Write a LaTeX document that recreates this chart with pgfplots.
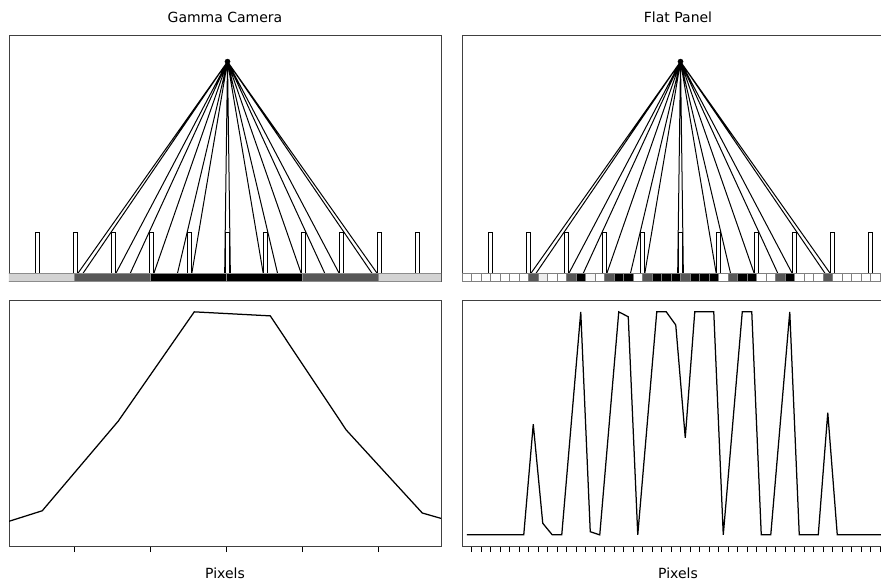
\documentclass[border=0pt]{standalone}
\usepackage{fontspec}
\setmainfont{DejaVu Sans}
\usepackage{pgfplots}
\pgfplotsset{compat=1.18}
\definecolor{dgray}{HTML}{575757}
\definecolor{lgray}{HTML}{D3D3D3}
\definecolor{vlgray}{HTML}{EEEEEE}
\definecolor{nwhite}{HTML}{F7F7F7}
\newcommand{\lbl}{\fontsize{14}{16}\selectfont}
\pgfplotsset{
  base/.style={scale only axis, width=432pt, clip=true,
    axis line style={black!75, line width=0.8pt},
    ytick=\empty, xmin=-5.75, xmax=5.618,
    tick align=outside, xtick pos=bottom, major tick length=6pt,
    xtick style={black, line width=0.8pt}, xticklabels={},
    every axis title/.style={at={(axis description cs:0.5,1)}, anchor=base, yshift=12pt},
    every axis x label/.style={at={(axis description cs:0.5,0)}, anchor=base, yshift=-32pt}},
  toppanel/.style={base, height=246.7pt, ymin=0, ymax=6.49, xtick=\empty},
  botpanel/.style={base, height=245.3pt, ymin=-0.05, ymax=1.05, xlabel={\lbl Pixels}},
  septa/.style={ybar, bar width=0.12, bar shift=0pt, fill=white, draw=black, line width=0.7pt},
  rays/.style={black, line width=1pt, line join=round},
  gdet/.style={ybar, bar width=2, bar shift=0pt, draw=black!45, line width=0.6pt},
  fdet/.style={ybar, bar width=0.25, bar shift=0pt, draw=black!50, line width=0.6pt},
  prof/.style={black, line width=1.25pt},
}
\begin{document}
\begin{tikzpicture}
\useasboundingbox (0pt,0pt) rectangle (881pt,-580pt);
\clip (0pt,0pt) rectangle (881pt,-580pt);
% ---------------- Gamma camera, geometry ----------------
\begin{axis}[toppanel, at={(9pt,-35pt)}, anchor=north west, title={\lbl Gamma Camera}]
\addplot[septa] coordinates {(-5,1.308) (-4,1.308) (-3,1.308) (-2,1.308) (-1,1.308) (0,1.308) (1,1.308) (2,1.308) (3,1.308) (4,1.308) (5,1.308)};
\addplot[rays] coordinates {(-3.94,0.216) (0,5.79) (-3.806,0.216) (0,5.79) (-2.94,0.216) (0,5.79) (-2.562,0.216) (0,5.79) (-1.94,0.216) (0,5.79) (-1.318,0.216) (0,5.79) (-0.94,0.216) (0,5.79) (-0.075,0.216) (0,5.79) (0.075,0.216) (0,5.79) (0.94,0.216) (0,5.79) (1.318,0.216) (0,5.79) (1.94,0.216) (0,5.79) (2.562,0.216) (0,5.79) (2.94,0.216) (0,5.79) (3.806,0.216) (0,5.79) (3.94,0.216)};
\addplot[gdet, fill=lgray] coordinates {(-5.03,0.216) (4.97,0.216)};
\addplot[gdet, fill=dgray] coordinates {(-3.03,0.216) (2.97,0.216)};
\addplot[gdet, fill=black] coordinates {(-1.03,0.216) (0.97,0.216)};
\addplot[only marks, mark=*, mark size=2.6pt, black] coordinates {(0,5.79)};
\end{axis}
% ---------------- Gamma camera, profile ----------------
\begin{axis}[botpanel, at={(9pt,-300.7pt)}, anchor=north west, xtick={-4.03,-2.03,-0.03,1.97,3.97}]
\addplot[prof] coordinates {(-6.875,0) (-4.875,0.108) (-2.875,0.51) (-0.875,1.0) (1.125,0.982) (3.125,0.47) (5.125,0.098) (7.125,0)};
\end{axis}
% ---------------- Flat panel, geometry ----------------
\begin{axis}[toppanel, at={(462pt,-35pt)}, anchor=north west, title={\lbl Flat Panel}]
\addplot[septa] coordinates {(-5,1.308) (-4,1.308) (-3,1.308) (-2,1.308) (-1,1.308) (0,1.308) (1,1.308) (2,1.308) (3,1.308) (4,1.308) (5,1.308)};
\addplot[rays] coordinates {(-3.94,0.216) (0,5.79) (-3.806,0.216) (0,5.79) (-2.94,0.216) (0,5.79) (-2.562,0.216) (0,5.79) (-1.94,0.216) (0,5.79) (-1.318,0.216) (0,5.79) (-0.94,0.216) (0,5.79) (-0.075,0.216) (0,5.79) (0.075,0.216) (0,5.79) (0.94,0.216) (0,5.79) (1.318,0.216) (0,5.79) (1.94,0.216) (0,5.79) (2.562,0.216) (0,5.79) (2.94,0.216) (0,5.79) (3.806,0.216) (0,5.79) (3.94,0.216)};
\addplot[fdet, fill=white] coordinates {(-5.625,0.216) (-5.375,0.216) (-5.125,0.216) (-4.875,0.216) (-4.625,0.216) (-4.375,0.216) (-4.125,0.216) (-3.375,0.216) (-3.125,0.216) (-2.125,0.216) (-1.125,0.216) (1.125,0.216) (2.125,0.216) (2.375,0.216) (3.125,0.216) (3.375,0.216) (3.625,0.216) (4.125,0.216) (4.375,0.216) (4.625,0.216) (4.875,0.216) (5.125,0.216) (5.375,0.216) (5.625,0.216)};
\addplot[fdet, fill=vlgray] coordinates {(-3.625,0.216)};
\addplot[fdet, fill=nwhite] coordinates {(-2.375,0.216)};
\addplot[fdet, fill=dgray] coordinates {(-3.875,0.216) (-2.875,0.216) (-1.875,0.216) (-0.875,0.216) (0.125,0.216) (1.375,0.216) (2.625,0.216) (3.875,0.216)};
\addplot[fdet, fill=black] coordinates {(-2.625,0.216) (-1.625,0.216) (-1.375,0.216) (-0.625,0.216) (-0.375,0.216) (-0.125,0.216) (0.375,0.216) (0.625,0.216) (0.875,0.216) (1.625,0.216) (1.875,0.216) (2.875,0.216)};
\addplot[only marks, mark=*, mark size=2.6pt, black] coordinates {(0,5.79)};
\end{axis}
% ---------------- Flat panel, profile ----------------
\begin{axis}[botpanel, at={(462pt,-300.7pt)}, anchor=north west, xtick={-5.5,-5.25,...,5.5}]
\addplot[prof] coordinates {
(-5.625,0) (-5.375,0) (-5.125,0) (-4.875,0) (-4.625,0) (-4.375,0) (-4.125,0)
(-3.875,0.496) (-3.625,0.052) (-3.375,0) (-3.125,0) (-2.875,0.5) (-2.625,1) (-2.375,0.014)
(-2.125,0) (-1.875,0.5) (-1.625,1) (-1.375,0.978) (-1.125,0) (-0.875,0.5) (-0.625,1)
(-0.375,1) (-0.125,0.941) (0.125,0.435) (0.375,1) (0.625,1) (0.875,1) (1.125,0)
(1.375,0.5) (1.625,1) (1.875,1) (2.125,0) (2.375,0) (2.625,0.5) (2.875,1) (3.125,0)
(3.375,0) (3.625,0) (3.875,0.548) (4.125,0) (4.375,0) (4.625,0) (4.875,0) (5.125,0)
(5.375,0) (5.625,0)};
\end{axis}
\end{tikzpicture}
\end{document}
